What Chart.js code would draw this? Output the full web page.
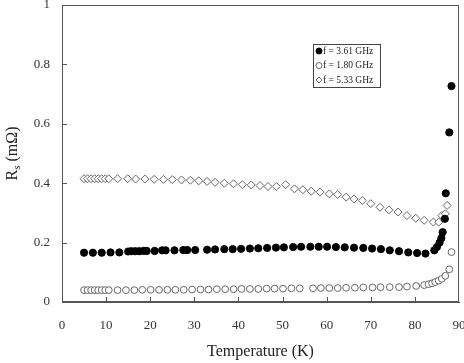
<!DOCTYPE html>
<html>
<head>
<meta charset="utf-8">
<script src="https://cdn.jsdelivr.net/npm/chart.js@4.4.1/dist/chart.umd.min.js"></script>
<style>
  html, body { margin: 0; padding: 0; background: #fff; }
  #wrap { width: 464px; height: 363px; }
</style>
</head>
<body>
<div id="wrap"><canvas id="rsChart" width="464" height="363"></canvas></div>
<script>
// Temperature (K) and surface resistance (mOhm)
const tempA = [5, 7, 9, 11, 13, 15, 15.7, 16.6, 17.5, 18.5, 19.2, 21, 22.7, 23.5, 25.5, 27.5, 28.4, 30.2, 32.9, 34.7,
  36.8, 38.7, 40.6, 42.6, 44.5, 46.5, 48.5, 50.3, 52.4, 54.2, 56.3, 58.2, 60.1, 62.1, 64.1, 66.2, 68.3, 70.3, 72.3, 74.3,
  76.4, 78.5, 80.5, 82.4, 84.4, 85.0, 85.6, 86.0, 86.3, 86.8, 87.0, 87.8, 88.3];
const rsA = [0.166, 0.166, 0.166, 0.167, 0.167, 0.170, 0.171, 0.171, 0.171, 0.172, 0.172, 0.172, 0.174, 0.174, 0.174, 0.175, 0.175, 0.175, 0.176, 0.177,
  0.178, 0.178, 0.179, 0.180, 0.181, 0.182, 0.183, 0.184, 0.185, 0.186, 0.186, 0.186, 0.186, 0.185, 0.184, 0.183, 0.182, 0.180, 0.178, 0.174,
  0.171, 0.167, 0.165, 0.163, 0.174, 0.185, 0.200, 0.215, 0.235, 0.280, 0.366, 0.571, 0.727];

const tempB = [5, 5.8, 6.6, 7.4, 8.2, 9, 9.8, 10.6, 12.6, 14.5, 16.4, 18.2, 20.1, 22.0, 23.9, 25.7, 27.6, 29.5,
  31.4, 33.2, 35.1, 37, 38.9, 40.7, 42.6, 44.5, 46.4, 48.2, 50.1, 52, 53.9, 56.9, 58.7, 60.6, 62.5, 64.4, 66.4, 68.3,
  70.4, 72.2, 74.3, 76.4, 78.2, 80.3, 82.1, 83.1, 83.9, 84.6, 85.4, 86.1, 86.9, 87.8, 88.3];
const rsB = [0.040, 0.040, 0.040, 0.040, 0.040, 0.040, 0.040, 0.040, 0.040, 0.040, 0.040, 0.041, 0.041, 0.041, 0.041, 0.041, 0.041, 0.042,
  0.042, 0.042, 0.043, 0.043, 0.043, 0.044, 0.044, 0.044, 0.045, 0.045, 0.045, 0.046, 0.046, 0.046, 0.047, 0.047, 0.047, 0.048, 0.048, 0.049,
  0.049, 0.050, 0.050, 0.050, 0.052, 0.054, 0.057, 0.060, 0.063, 0.067, 0.072, 0.078, 0.088, 0.110, 0.168];

const tempC = [5, 5.8, 6.6, 7.4, 8.2, 9, 9.8, 10.6, 12.6, 14.9, 16.7, 18.8, 20.9, 23, 25, 27.1, 29.1,
  31, 32.9, 34.7, 36.8, 38.9, 40.9, 42.9, 44.9, 46.7, 48.6, 50.7, 52.7, 54.6, 56.5, 58.5, 60.6, 62.5, 64.4, 66.2,
  68.1, 70, 72.1, 74.1, 76.2, 78.2, 80.2, 82.1, 84.2, 85.4, 86.1, 86.9, 87.3];
const rsC = [0.415, 0.415, 0.415, 0.415, 0.415, 0.415, 0.415, 0.415, 0.415, 0.415, 0.414, 0.414, 0.413, 0.413, 0.412, 0.411, 0.410,
  0.408, 0.406, 0.403, 0.400, 0.398, 0.395, 0.394, 0.392, 0.389, 0.389, 0.395, 0.381, 0.378, 0.373, 0.370, 0.364, 0.362, 0.353, 0.347,
  0.342, 0.331, 0.319, 0.310, 0.303, 0.291, 0.282, 0.275, 0.269, 0.269, 0.291, 0.297, 0.325];

const seriesLabels = ['f = 3.61 GHz', 'f = 1.80 GHz', 'f = 5.33 GHz'];
const xTicks = [0, 10, 20, 30, 40, 50, 60, 70, 80, 90];
const yTicks = [0, 0.2, 0.4, 0.6, 0.8, 1];

const SERIF = '"Liberation Serif", "Times New Roman", serif';
const toPoints = (xs, ys) => xs.map((x, i) => ({ x: x, y: ys[i] }));

// box frame + inward tick marks
const frameTicks = {
  id: 'frameTicks',
  afterDatasetsDraw(chart) {
    const { ctx, chartArea: a, scales } = chart;
    ctx.save();
    ctx.strokeStyle = '#555';
    ctx.lineWidth = 1;
    ctx.strokeRect(a.left + 0.5, a.top + 0.5, a.right - a.left - 1, a.bottom - a.top - 1);
    ctx.beginPath();
    xTicks.slice(1, -1).forEach(v => {
      const px = Math.round(scales.x.getPixelForValue(v)) + 0.5;
      ctx.moveTo(px, a.bottom);
      ctx.lineTo(px, a.bottom - 5);
    });
    yTicks.slice(1, -1).forEach(v => {
      const py = Math.round(scales.y.getPixelForValue(v)) + 0.5;
      ctx.moveTo(a.left, py);
      ctx.lineTo(a.left + 5, py);
    });
    ctx.stroke();
    ctx.restore();
  }
};

// y title with subscript, and the boxed legend inside the plot
const extras = {
  id: 'extras',
  afterDraw(chart) {
    const { ctx, chartArea: a } = chart;
    ctx.save();
    // y axis title
    const cy = (a.top + a.bottom) / 2;
    ctx.translate(13, cy);
    ctx.rotate(-Math.PI / 2);
    ctx.fillStyle = '#222';
    ctx.textBaseline = 'middle';
    ctx.font = '16px ' + SERIF;
    const wR = ctx.measureText('R').width;
    ctx.font = 'italic 11px ' + SERIF;
    const wS = ctx.measureText('s').width;
    ctx.font = '16px ' + SERIF;
    const wU = ctx.measureText(' (m\u03A9)').width;
    let x0 = -(wR + wS + wU) / 2;
    ctx.textAlign = 'left';
    ctx.fillText('R', x0, 0);
    ctx.font = 'italic 11px ' + SERIF;
    ctx.fillText('s', x0 + wR, 4);
    ctx.font = '16px ' + SERIF;
    ctx.fillText(' (m\u03A9)', x0 + wR + wS, 0);
    ctx.restore();

    // legend
    ctx.save();
    const bx = a.left + 251, by = a.top + 39, bw = 67, bh = 43;
    ctx.fillStyle = '#fff';
    ctx.fillRect(bx, by, bw, bh);
    ctx.beginPath();
    ctx.rect(bx, by, bw, bh);
    ctx.clip();
    ctx.font = '9.5px ' + SERIF;
    ctx.textBaseline = 'middle';
    ctx.textAlign = 'left';
    chart.data.datasets.forEach((ds, i) => {
      const ry = by + 7 + i * 14.5;
      ctx.lineWidth = 1;
      ctx.strokeStyle = ds.borderColor;
      ctx.fillStyle = ds.backgroundColor;
      Chart.helpers.drawPoint(ctx, { pointStyle: ds.pointStyle, radius: 3, rotation: 0, borderWidth: 1 }, bx + 6, ry);
      ctx.fillStyle = '#222';
      ctx.fillText(ds.label, bx + 10, ry);
    });
    ctx.restore();
    ctx.save();
    ctx.strokeStyle = '#444';
    ctx.lineWidth = 1;
    ctx.strokeRect(bx + 0.5, by + 0.5, bw, bh);
    ctx.restore();
  }
};

new Chart(document.getElementById('rsChart'), {
  type: 'scatter',
  data: {
    datasets: [
      {
        label: seriesLabels[0],
        data: toPoints(tempA, rsA),
        pointStyle: 'circle',
        pointRadius: 3.6,
        backgroundColor: '#000',
        borderColor: '#000',
        borderWidth: 1
      },
      {
        label: seriesLabels[1],
        data: toPoints(tempB, rsB),
        pointStyle: 'circle',
        pointRadius: 3.4,
        backgroundColor: '#fff',
        borderColor: '#666',
        borderWidth: 1
      },
      {
        label: seriesLabels[2],
        data: toPoints(tempC, rsC),
        pointStyle: 'rectRot',
        pointRadius: 4,
        backgroundColor: '#fff',
        borderColor: '#666',
        borderWidth: 1
      }
    ]
  },
  options: {
    responsive: false,
    animation: false,
    clip: false,
    layout: { padding: { top: 3, right: 2, left: 0, bottom: 0 } },
    plugins: {
      legend: { display: false },
      tooltip: { enabled: false }
    },
    scales: {
      x: {
        type: 'linear',
        min: 0,
        max: 90,
        afterFit: s => { s.height = 61; s.paddingLeft = 0; s.paddingRight = 0; },
        afterBuildTicks: s => { s.ticks = xTicks.map(v => ({ value: v })); },
        grid: { display: false, drawTicks: false },
        border: { display: true, color: '#555' },
        ticks: { color: '#333', padding: 16, font: { family: SERIF, size: 13 } },
        title: {
          display: true,
          text: 'Temperature (K)',
          color: '#222',
          font: { family: SERIF, size: 16 },
          padding: { top: 0, bottom: 2 }
        }
      },
      y: {
        type: 'linear',
        min: 0,
        max: 1,
        afterFit: s => { s.width = 62; s.paddingTop = 0; s.paddingBottom = 0; },
        afterBuildTicks: s => { s.ticks = yTicks.map(v => ({ value: v })); },
        grid: { display: false, drawTicks: false },
        border: { display: true, color: '#555' },
        ticks: { color: '#333', padding: 12, font: { family: SERIF, size: 13 }, callback: v => String(v) }
      }
    }
  },
  plugins: [frameTicks, extras]
});
</script>
</body>
</html>
